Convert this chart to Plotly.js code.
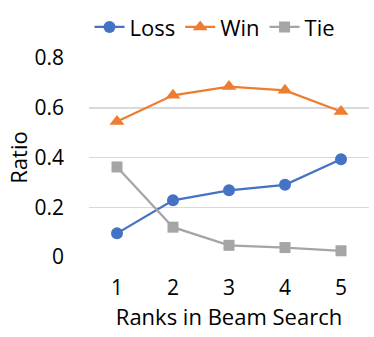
<!DOCTYPE html>
<html>
<head>
<meta charset="utf-8">
<script src="https://cdn.plot.ly/plotly-3.0.1.min.js"></script>
<style>
  html, body { margin: 0; padding: 0; background: #fff; }
  #chart { width: 374px; height: 337px; }
</style>
</head>
<body>
<div id="chart"></div>
<script>
// Valores
const ranks = ['1', '2', '3', '4', '5'];
const loss = [0.095, 0.228, 0.268, 0.290, 0.393];
const win = [0.545, 0.650, 0.685, 0.670, 0.585];
const tie = [0.362, 0.120, 0.047, 0.038, 0.025];
const yTicks = [0, 0.2, 0.4, 0.6, 0.8];
const yTickText = ['0', '0.2', '0.4', '0.6', '0.8'];

const font = '"Open Sans", "Noto Sans", sans-serif';

function serie(name, y, color, symbol, size) {
    return {
        x: ranks,
        y: y,
        name: name,
        type: 'scatter',
        mode: 'lines+markers',
        line: {color: color, width: 2.25},
        marker: {color: color, symbol: symbol, size: size}
    };
}

const data = [
    serie('Loss', loss, '#4472C4', 'circle', 12),
    serie('Win', win, '#ED7D31', 'triangle-up', 13),
    serie('Tie', tie, '#A5A5A5', 'square', 11)
];

const layout = {
    width: 374,
    height: 337,
    margin: {l: 89, r: 5, t: 58, b: 80, autoexpand: false},
    paper_bgcolor: '#fff',
    plot_bgcolor: '#fff',
    font: {family: font, size: 22, color: '#000'},
    showlegend: true,
    legend: {
        orientation: 'h',
        x: 0.45, xanchor: 'center',
        y: 1.155, yanchor: 'middle',
        font: {family: font, size: 22, color: '#000'},
        itemwidth: 30,
        tracegroupgap: 0
    },
    xaxis: {
        type: 'category',
        range: [-0.5, 4.5],
        showgrid: false,
        zeroline: false,
        showline: false,
        ticks: '',
        ticklabelstandoff: 16,
        tickfont: {family: font, size: 21},
        title: {text: 'Ranks in Beam Search', font: {family: font, size: 22}, standoff: 6}
    },
    yaxis: {
        range: [0, 0.8],
        tickvals: yTicks,
        ticktext: yTickText,
        showgrid: true,
        gridcolor: '#D9D9D9',
        gridwidth: 1.5,
        zeroline: false,
        showline: false,
        ticks: '',
        ticklabelstandoff: 24,
        tickfont: {family: font, size: 21},
        title: {text: 'Ratio', font: {family: font, size: 22}, standoff: 0}
    }
};

Plotly.newPlot('chart', data, layout, {displayModeBar: false, staticPlot: true});
</script>
</body>
</html>
